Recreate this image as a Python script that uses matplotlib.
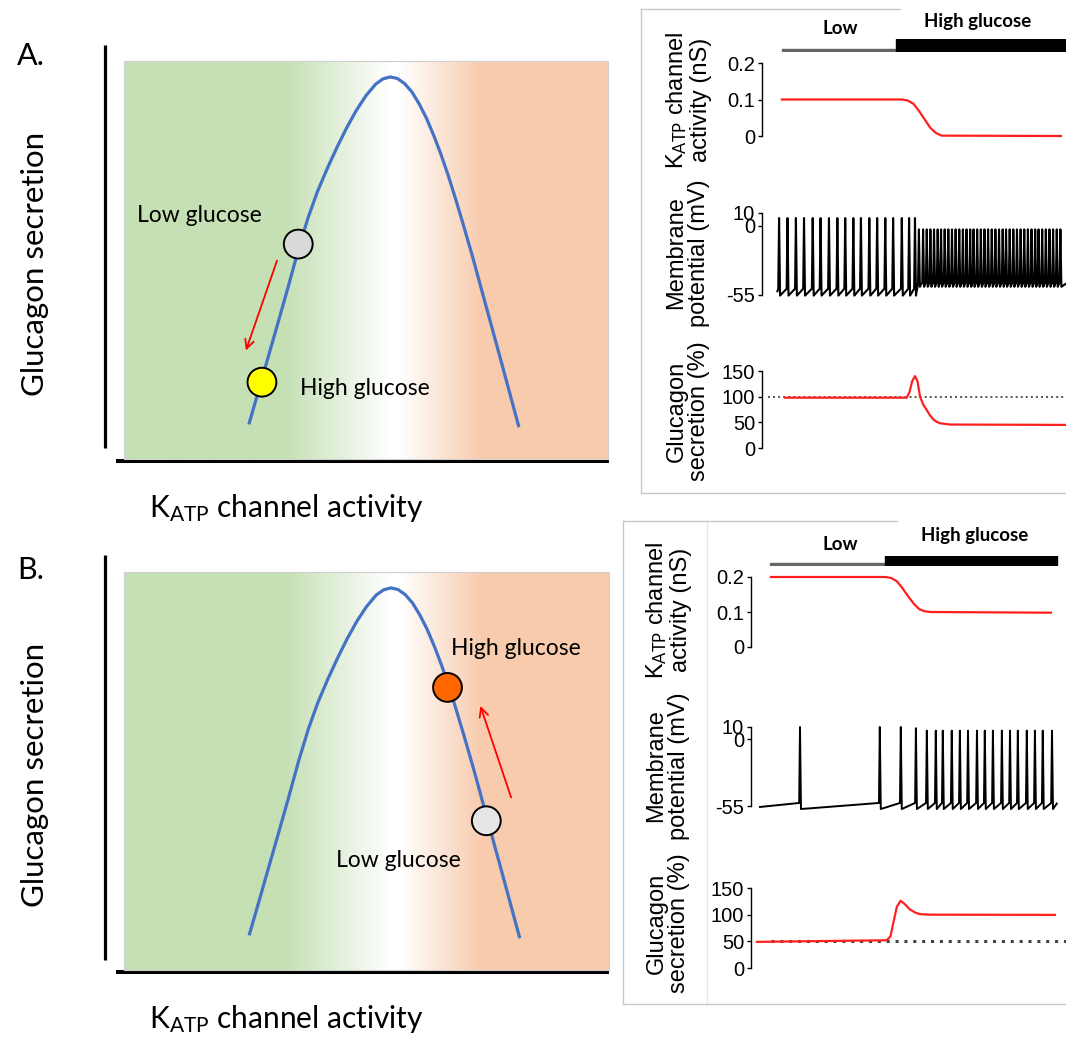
import numpy as np
import matplotlib.pyplot as plt
from matplotlib.colors import to_rgb

plt.rcParams['mathtext.fontset'] = 'custom'
plt.rcParams['mathtext.rm'] = 'Lato'
plt.rcParams['mathtext.it'] = 'Lato:italic'
plt.rcParams['mathtext.bf'] = 'Lato:bold'

W, H = 1066, 1037

# ---- schematic (left): shared bell curve, units = % of the shaded box
bell_x = [25.8, 28, 30, 32, 34, 36, 38, 40, 42, 44, 46, 48, 50, 52, 53.5, 55, 56.5,
          58, 59.5, 61, 62.5, 64, 65.5, 67, 68.5, 70, 72, 74, 76, 78, 80, 81.6]
bell_y = [8.7, 18.0, 26.5, 35.0, 43.6, 52.5, 60.5, 67.3, 73.0, 78.3, 83.2, 87.6, 91.3,
          94.2, 95.5, 96.0, 95.6, 94.3, 92.2, 89.2, 85.6, 81.3, 76.5, 71.2, 65.4, 59.3,
          50.9, 42.0, 33.1, 24.2, 15.2, 8.0]

grad_pos = [0, 0.33, 0.55, 0.57, 0.74, 1.0]
grad_col = ['#c5e0b4', '#c5e0b4', '#ffffff', '#ffffff', '#f8cbad', '#f8cbad']

# A: low -> high glucose moves down the left flank
a_dots_x = [36.0, 28.5]
a_dots_y = [54.0, 19.3]
a_dots_c = ['#d9d9d9', '#ffff00']
a_arrow = [(31.8, 50.5), (25.0, 26.6)]
a_text = [('Low glucose', 2.7, 61.3), ('High glucose', 36.4, 17.8)]

# B: low -> high glucose moves up the right flank
b_dots_x = [66.7, 74.7]
b_dots_y = [71.0, 37.5]
b_dots_c = ['#ff6600', '#e6e6e6']
b_arrow = [(80.0, 42.7), (73.3, 67.0)]
b_text = [('High glucose', 67.4, 80.9), ('Low glucose', 43.8, 27.6)]

# ---- simulations (right), time in arbitrary units
a_low_span = (0, 40.7)
a_high_span = (40.7, 61.5)
a_katp_t = [0, 43, 45, 47, 49, 51, 53, 55, 57, 99.6]
a_katp_v = [0.1, 0.1, 0.097, 0.088, 0.068, 0.045, 0.022, 0.008, 0.001, 0.0]
a_spk_low = [-1.0, 2.0, 5.0, 7.9, 11.0, 13.8, 16.8, 19.8, 22.6, 25.5, 28.2, 31.2,
             34.0, 36.9, 39.7, 42.8, 45.4, 47.5]
a_spk_high = [48.9, 50.4, 51.7, 53.0, 54.3, 55.6, 56.8, 58.1, 59.4, 60.7, 62.0, 63.3,
              64.6, 65.9, 67.2, 68.4, 69.7, 71.0, 72.3, 73.6, 74.9, 76.2, 77.5,
              78.8, 80.0, 81.3, 82.6, 83.9, 85.2, 86.5, 87.8, 89.1, 90.4, 91.6,
              92.9, 94.2, 95.5, 96.8, 98.1, 99.4]
a_glu_t = [1.1, 44.5, 45.5, 46.5, 47.5, 48.4, 49.3, 50.5, 51.7, 52.8, 54.0, 55.2,
           56.4, 60.0, 101.5]
a_glu_v = [98, 98, 108, 130, 140, 130, 100, 84, 74, 64, 56, 51, 48.3, 45.7, 45]
a_ref = 100

b_low_span = (-0.4, 41.1)
b_high_span = (40.7, 61.4)
b_katp_t = [0, 41, 43, 45, 47, 49, 51, 53, 55, 57, 100]
b_katp_v = [0.2, 0.2, 0.197, 0.188, 0.168, 0.145, 0.124, 0.108, 0.102, 0.1, 0.098]
b_spk = [10.4, 38.9, 46.4, 51.8, 55.7, 58.9, 61.4, 64.6, 67.5, 70.4, 73.6, 76.4,
         79.3, 82.5, 85.4, 88.2, 91.4, 94.3, 97.1, 100.4]
b_spk_peak = [10, 10, 10, 9, 7, 7, 7, 7, 7, 7, 7, 7, 7, 7, 7, 7, 7, 7, 7, 7]
b_glu_t = [-5, 41.3, 42.7, 43.7, 45.0, 46.3, 47.8, 49.6, 51.5, 53.2, 56.8, 101.4]
b_glu_v = [49, 52, 59, 84, 115, 126, 120, 110, 104, 101, 100, 99.6]
b_ref = 50

fig = plt.figure(figsize=(W / 100, H / 100), dpi=100)


def px_axes(x0, y0, x1, y1):
    return fig.add_axes([x0 / W, 1 - y1 / H, (x1 - x0) / W, (y1 - y0) / H])


bg = px_axes(0, 0, W, H)
bg.set_xlim(0, W)
bg.set_ylim(H, 0)
bg.axis('off')

# gradient strip
cols = np.array([to_rgb(c) for c in grad_col])
xs = np.linspace(0, 1, 600)
grad = np.stack([np.interp(xs, grad_pos, cols[:, k]) for k in range(3)], axis=-1)[None]


def schematic(box, dx, dy, dc, arrow, texts):
    ax = px_axes(*box)
    ax.imshow(grad, extent=(0, 100, 0, 100), aspect='auto', zorder=0)
    ax.set_xlim(0, 100)
    ax.set_ylim(0, 100)
    ax.set_xticks([])
    ax.set_yticks([])
    for s in ax.spines.values():
        s.set_color('#cfcfcf')
        s.set_linewidth(0.8)
    ax.plot(bell_x, bell_y, color='#4472c4', lw=2.3, solid_capstyle='butt',
            solid_joinstyle='round', zorder=2)
    ax.scatter(dx, dy, s=430, c=dc, edgecolors='black', linewidths=1.4, zorder=3)
    ax.annotate('', xy=arrow[1], xytext=arrow[0],
                arrowprops=dict(arrowstyle='->', color='red', lw=1.3, mutation_scale=16))
    for txt, x, y in texts:
        ax.text(x, y, txt, fontsize=16.5, family='Lato', va='center', ha='left')
    return ax


schematic((124, 61, 608, 459), a_dots_x, a_dots_y, a_dots_c, a_arrow, a_text)
schematic((124, 572, 609, 970), b_dots_x, b_dots_y, b_dots_c, b_arrow, b_text)

for vy, hy, ly, xly in [((45, 448), 461, 264, 508), ((555, 960), 972, 775, 1019)]:
    bg.plot([105, 105], vy, color='black', lw=2.3, solid_capstyle='butt')
    bg.plot([116, 609], [hy, hy], color='black', lw=2.9, solid_capstyle='butt')
    bg.text(35, ly, 'Glucagon secretion', rotation=90, ha='center', va='center',
            fontsize=22.5, family='Lato')
    bg.text(286, xly, r'$\mathrm{K_{ATP}}$ channel activity', ha='center', va='center',
            fontsize=21.5, family='Lato')
bg.text(17, 56, 'A.', fontsize=22, family='Lato', va='center')
bg.text(17, 570, 'B.', fontsize=22, family='Lato', va='center')

# frames around simulation panels
fc = '#c8c8c8'
bg.plot([641, 641], [9, 493], color=fc, lw=1)
bg.plot([641, 1066], [493, 493], color=fc, lw=1)
bg.plot([641, 900], [9, 9], color=fc, lw=1)
bg.plot([623, 623], [521, 1004], color=fc, lw=1)
bg.plot([707, 707], [521, 1004], color='#e8e8e8', lw=1)
bg.plot([623, 1066], [1004, 1004], color=fc, lw=1)
bg.plot([623, 897], [521, 521], color=fc, lw=1)


def trace_axes(box, xlim, ylim, ticks, labels):
    ax = px_axes(*box)
    ax.set_xlim(*xlim)
    ax.set_ylim(*ylim)
    ax.patch.set_visible(False)
    for s in ['top', 'right', 'bottom']:
        ax.spines[s].set_visible(False)
    ax.spines['left'].set_linewidth(1.0)
    ax.set_xticks([])
    ax.set_yticks(ticks)
    ax.set_yticklabels(labels, family='Liberation Sans', fontsize=14.5)
    ax.tick_params(axis='y', direction='out', length=3, width=1, pad=2)
    return ax


def spike_train(spikes, peak, pre, trough, start, end):
    n = len(spikes)
    peak = np.broadcast_to(peak, n)
    pre = np.broadcast_to(pre, n)
    trough = np.broadcast_to(trough, n)
    t, v = [start[0]], [start[1]]
    for s, pk, pr, tr in zip(spikes, peak, pre, trough):
        t += [s - 0.3, s, s + 0.35]
        v += [pr, pk, tr]
    t.append(end[0])
    v.append(end[1])
    return t, v


def glucose_bar(box, xlim, low, high, thin):
    ax = px_axes(*box)
    ax.set_xlim(*xlim)
    ax.set_ylim(0, 1)
    ax.axis('off')
    ax.broken_barh([low], (0, thin), color='#666666')
    ax.broken_barh([high], (0, 1), color='black')


def ylab(x, y, txt):
    bg.text(x, y, txt, rotation=90, ha='center', va='center', fontsize=17,
            family='Liberation Sans', linespacing=1.05, multialignment='center')


red = '#ff1f1f'

# ---- A simulations
xa = (-7.1, 101.4)
glucose_bar((762, 39, 1066, 51), xa, a_low_span, a_high_span, 0.15)
bg.text(840, 29, 'Low', ha='center', va='center', fontsize=13.5, family='Lato', weight='bold')
bg.text(978, 21, 'High glucose', ha='center', va='center', fontsize=13.5, family='Lato',
        weight='bold')

ax = trace_axes((762, 63, 1066, 136), xa, (0, 0.2), [0, 0.1, 0.2], ['0', '0.1', '0.2'])
ax.plot(a_katp_t, a_katp_v, color=red, lw=1.6, clip_on=False)

ax = trace_axes((762, 213, 1066, 295), xa, (-55, 10), [-55, 0, 10], ['-55', '0', '10'])
t1, v1 = spike_train(a_spk_low, 6, -50, -55.5, (-1.6, -52), (a_spk_low[-1] + 0.6, -52))
t2, v2 = spike_train(a_spk_high, -3, -45, -48.5, (a_spk_high[0] - 0.6, -50), (101.4, -46))
ax.plot(t1 + t2, v1 + v2, color='black', lw=1.5, clip_on=False)

ax = trace_axes((762, 371, 1066, 448), xa, (0, 150), [0, 50, 100, 150],
                ['0', '50', '100', '150'])
ax.hlines(a_ref, -5, 101.4, color='#555555', lw=1.4, linestyles=(0, (1, 1.6)))
ax.plot(a_glu_t, a_glu_v, color=red, lw=1.6, clip_on=False)

ylab(688, 100, 'K$_{\\mathrm{ATP}}$ channel\nactivity (nS)')
ylab(688, 253, 'Membrane\npotential (mV)')
ylab(688, 411, 'Glucagon\nsecretion (%)')

# ---- B simulations
xb = (-7.1, 105.4)
glucose_bar((751, 556, 1066, 565), xb, b_low_span, b_high_span, 0.2)
bg.text(840, 544, 'Low', ha='center', va='center', fontsize=13.5, family='Lato', weight='bold')
bg.text(975, 535, 'High glucose', ha='center', va='center', fontsize=13.5, family='Lato',
        weight='bold')

ax = trace_axes((751, 577, 1066, 647), xb, (0, 0.2), [0, 0.1, 0.2], ['0', '0.1', '0.2'])
ax.plot(b_katp_t, b_katp_v, color=red, lw=1.6, clip_on=False)

ax = trace_axes((751, 727, 1066, 806), xb, (-55, 10), [-55, 0, 10], ['-55', '0', '10'])
t3, v3 = spike_train(b_spk, b_spk_peak, -52.5, -57.5, (-3.9, -55.8), (102.1, -53))
ax.plot(t3, v3, color='black', lw=1.4, clip_on=False)

ax = trace_axes((751, 888, 1066, 968), xb, (0, 150), [0, 50, 100, 150],
                ['0', '50', '100', '150'])
ax.hlines(b_ref, 0.2, 105.4, color='#444444', lw=2.2, linestyles=(0, (1, 1.9)))
ax.plot(b_glu_t, b_glu_v, color=red, lw=1.6, clip_on=False)

ylab(668, 610, 'K$_{\\mathrm{ATP}}$ channel\nactivity (nS)')
ylab(668, 766, 'Membrane\npotential (mV)')
ylab(668, 923, 'Glucagon\nsecretion (%)')

fig.savefig('out.png', dpi=100)
